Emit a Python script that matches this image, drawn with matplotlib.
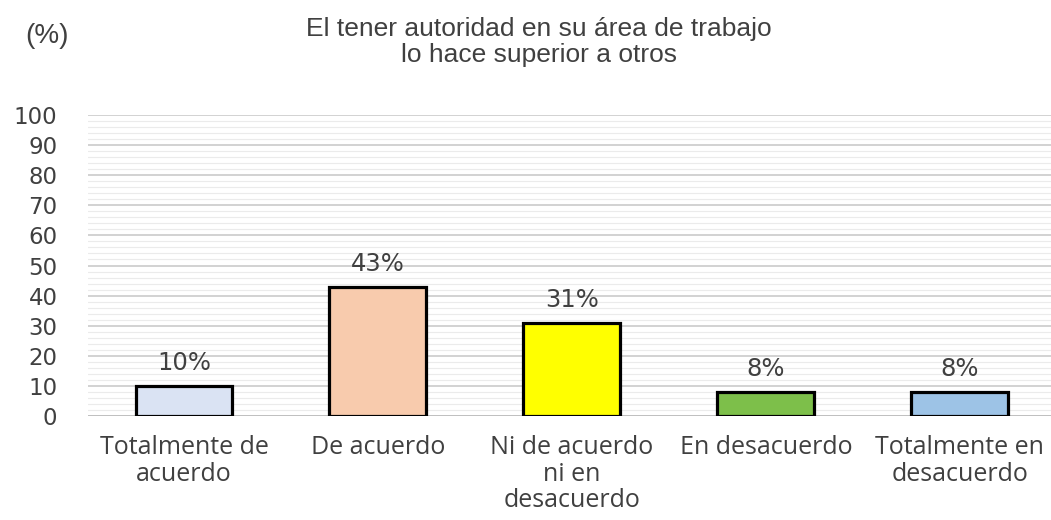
#!/usr/bin/env python3
"""Bar chart: share of answers to 'El tener autoridad en su área de trabajo lo hace superior a otros'."""

import matplotlib

matplotlib.use("Agg")
import matplotlib.pyplot as plt
import numpy as np
from matplotlib.ticker import MultipleLocator

CATEGORIES = [
    "Totalmente de\nacuerdo",
    "De acuerdo",
    "Ni de acuerdo\nni en\ndesacuerdo",
    "En desacuerdo",
    "Totalmente en\ndesacuerdo",
]
PERCENTS = [10, 43, 31, 8, 8]
COLORS = ["#DAE3F3", "#F8CBAD", "#FFFF00", "#7DBF4A", "#9DC3E6"]
TITLE = "El tener autoridad en su área de trabajo\nlo hace superior a otros"

TEXT_GRAY = "#404040"


def main() -> int:
    fig = plt.figure(figsize=(10.51, 5.2), dpi=100)
    ax = fig.add_axes([88 / 1051, 0.2, 1 - 88 / 1051, 0.5788])

    x = np.arange(len(CATEGORIES))
    ax.bar(x, PERCENTS, width=0.5, color=COLORS, edgecolor="black", linewidth=2.3, zorder=3)

    for xi, val in zip(x, PERCENTS):
        ax.text(xi, val + 3.5, f"{val}%", ha="center", va="bottom",
                fontsize=17.5, color=TEXT_GRAY, family="DejaVu Sans")

    ax.set_xlim(-0.495, 4.47)
    ax.set_ylim(0, 100)
    ax.yaxis.set_major_locator(MultipleLocator(10))
    ax.yaxis.set_minor_locator(MultipleLocator(2))
    ax.grid(axis="y", which="major", color="#CFCFCF", linewidth=1.3, zorder=0)
    ax.grid(axis="y", which="minor", color="#EBEBEB", linewidth=0.8, zorder=0)
    for spine in ax.spines.values():
        spine.set_visible(False)
    ax.axhline(0, color="#BFBFBF", linewidth=1.3, zorder=2)

    ax.set_xticks(x)
    ax.set_xticklabels(CATEGORIES, fontsize=18, color=TEXT_GRAY, family="Open Sans",
                       linespacing=1.08)
    ax.tick_params(axis="x", length=0, pad=14)
    ax.tick_params(axis="y", which="both", length=0, pad=22, labelsize=16.5,
                   labelcolor=TEXT_GRAY)
    for lbl in ax.get_yticklabels():
        lbl.set_family("DejaVu Sans")

    fig.text(539 / 1051, 1 - 42 / 520, TITLE, ha="center", va="center", fontsize=19,
             color=TEXT_GRAY, family="Liberation Sans", linespacing=1.12)
    fig.text(25 / 1051, 1 - 36 / 520, "(%)", ha="left", va="center", fontsize=20,
             color=TEXT_GRAY, family="Liberation Sans")

    fig.savefig("out.png", dpi=100)
    plt.close(fig)
    return 0


if __name__ == "__main__":
    raise SystemExit(main())
